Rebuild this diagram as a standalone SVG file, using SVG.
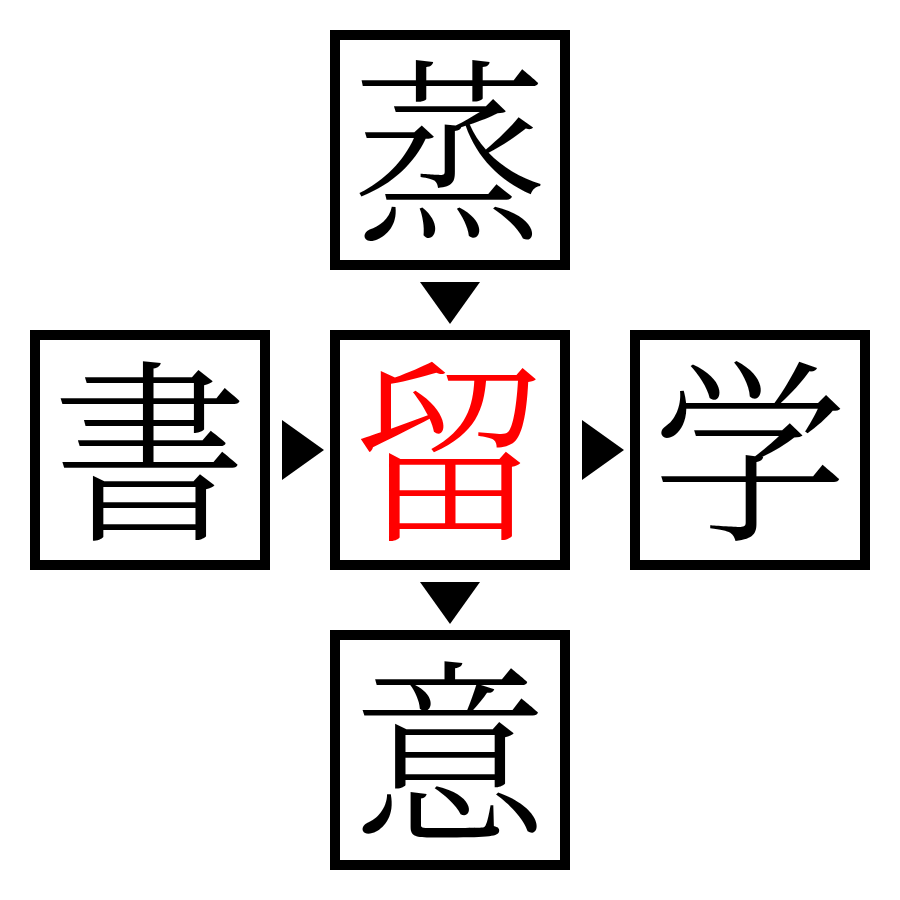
<svg xmlns="http://www.w3.org/2000/svg" width="900" height="900" viewBox="0 0 900 900">
<style>
.box{fill:#fff;stroke:#000;stroke-width:10}
.ch{font-family:"Noto Serif CJK JP","Noto Sans CJK JP",serif;font-size:196px;font-weight:300;text-anchor:middle;dominant-baseline:central;fill:#000}
.center{fill:#ff0000}
.arr{fill:#000}
</style>
<rect width="900" height="900" fill="#fff"/>
<g id="node-top"><rect class="box" x="335" y="35" width="230" height="230"/><text class="ch" x="450" y="140">蒸</text></g>
<g id="node-left"><rect class="box" x="35" y="335" width="230" height="230"/><text class="ch" x="150" y="440">書</text></g>
<g id="node-center"><rect class="box" x="335" y="335" width="230" height="230"/><text class="ch center" x="450" y="440">留</text></g>
<g id="node-right"><rect class="box" x="635" y="335" width="230" height="230"/><text class="ch" x="750" y="440">学</text></g>
<g id="node-bottom"><rect class="box" x="335" y="635" width="230" height="230"/><text class="ch" x="450" y="740">意</text></g>
<g id="connectors">
<polygon class="arr" points="420,282 480,282 450,324"/>
<polygon class="arr" points="282,420 282,480 324,450"/>
<polygon class="arr" points="582,420 582,480 624,450"/>
<polygon class="arr" points="420,582 480,582 450,624"/>
</g>
</svg>
